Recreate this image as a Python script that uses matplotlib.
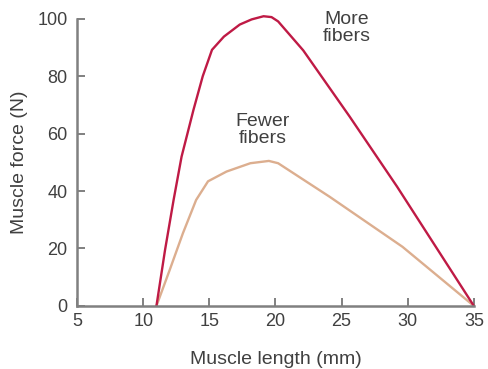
import matplotlib
matplotlib.use("Agg")
import matplotlib.pyplot as plt

# Force–length relationship for a muscle with more vs. fewer fibers
more_len = [11.0, 11.65, 12.3, 12.9, 13.8, 14.5, 15.2, 16.1, 17.3, 18.2, 19.1, 19.7,
            20.2, 22.1, 25.6, 29.2, 35.0]
more_force = [0, 19.5, 37, 52, 68.3, 80, 89.2, 93.8, 98, 99.8, 100.9, 100.6,
              99.1, 89, 66, 41.5, 0]

fewer_len = [11.0, 12.0, 13.0, 14.0, 14.9, 16.3, 18.1, 19.5, 20.2, 24.1, 29.6, 35.0]
fewer_force = [0, 12.5, 25.3, 36.9, 43.4, 46.8, 49.7, 50.5, 49.7, 38, 20.6, 0]

x_ticks = [5, 10, 15, 20, 25, 30, 35]
y_ticks = [0, 20, 40, 60, 80, 100]

plt.rcParams['font.family'] = ['Liberation Sans', 'DejaVu Sans']
text_color = '#404040'
axis_color = '#808080'

fig = plt.figure(figsize=(4.88, 3.69), dpi=100)
ax = fig.add_axes([0.158, 0.171, 0.813, 0.778])

ax.plot(fewer_len, fewer_force, color='#dcae8f', lw=1.7, clip_on=False,
        solid_joinstyle='round', solid_capstyle='round')
ax.plot(more_len, more_force, color='#bf1a45', lw=1.7, clip_on=False,
        solid_joinstyle='round', solid_capstyle='round')

ax.set_xlim(5, 35)
ax.set_ylim(0, 100)
ax.set_xticks(x_ticks)
ax.set_yticks(y_ticks)

for side in ('top', 'right'):
    ax.spines[side].set_visible(False)
for side in ('left', 'bottom'):
    ax.spines[side].set_color(axis_color)
    ax.spines[side].set_linewidth(1.8)

ax.tick_params(direction='in', length=6, width=1.4, color=axis_color,
               labelsize=13, labelcolor=text_color)
ax.tick_params(axis='x', pad=5)
ax.tick_params(axis='y', pad=7)

ax.set_xlabel('Muscle length (mm)', fontsize=14, color=text_color)
ax.set_ylabel('Muscle force (N)', fontsize=14, color=text_color)
ax.xaxis.label.set_va('center')
ax.yaxis.label.set_va('center')
ax.xaxis.set_label_coords(0.5, -0.185)
ax.yaxis.set_label_coords(-0.144, 0.5)

ax.text(25.4, 96.7, 'More\nfibers', fontsize=14, color=text_color,
        ha='center', va='center', linespacing=1.0)
ax.text(19.0, 61.3, 'Fewer\nfibers', fontsize=14, color=text_color,
        ha='center', va='center', linespacing=1.0)

fig.savefig('out.png', dpi=100, facecolor='white')
